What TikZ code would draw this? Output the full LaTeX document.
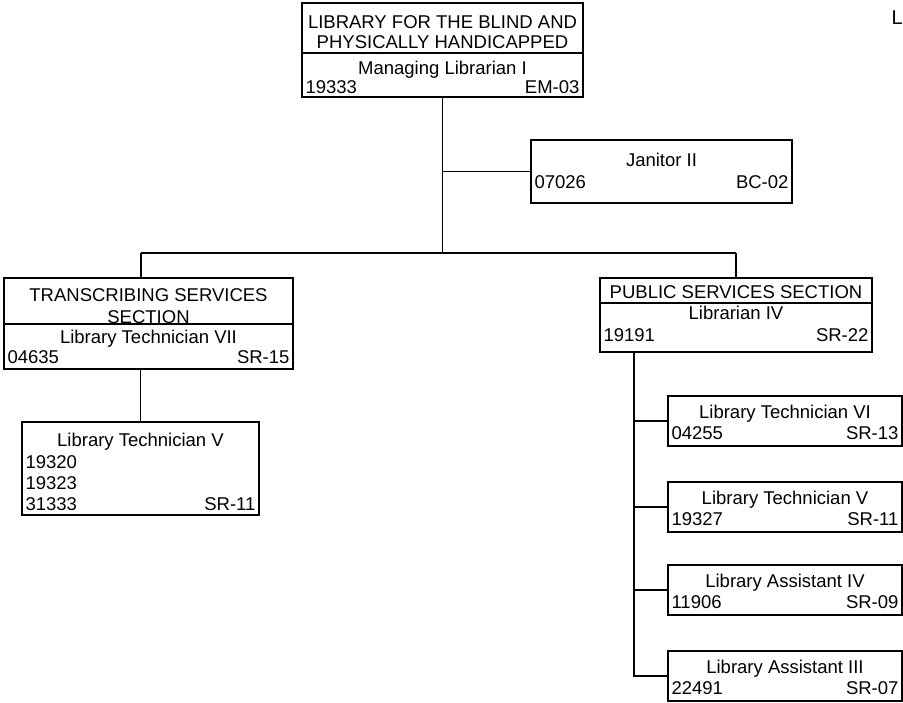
\documentclass[tikz,border=0pt]{standalone}
\usepackage{fontspec}
\setmainfont{Liberation Sans}
\begin{document}
\begin{tikzpicture}[x=1pt,y=-1pt,line width=1.1pt,
  box/.style={draw,rectangle,inner sep=0pt,outer sep=0pt},
  txt/.style={inner sep=0pt,font=\fontsize{18.5}{21}\selectfont},
  ctr/.style={txt,anchor=base},
  lft/.style={txt,anchor=base west},
  rgt/.style={txt,anchor=base east}]
\useasboundingbox (0,0) rectangle (903,703);
\fill[white] (0,0) rectangle (903,703);

% top box
\node[box,minimum width=281pt,minimum height=94pt] (top) at (442.5,50) {};
\draw (302,53) -- (583,53);
\node[ctr] (topa) at (442.5,28.5) {LIBRARY FOR THE BLIND AND};
\node[ctr] (topb) at (442.5,48.5) {PHYSICALLY HANDICAPPED};
\node[ctr] (topc) at (442.5,74.5) {Managing Librarian I};
\node[lft] (topd) at (305,93.5) {19333};
\node[rgt] (tope) at (580,93.5) {EM-03};

% janitor
\node[box,minimum width=261pt,minimum height=63pt] (jan) at (661.5,171.5) {};
\node[ctr] (jana) at (661.5,166.5) {Janitor II};
\node[lft] (janb) at (534,188.5) {07026};
\node[rgt] (janc) at (789,188.5) {BC-02};

% transcribing
\node[box,minimum width=289pt,minimum height=91pt] (trans) at (148.5,323.5) {};
\draw (4,324) -- (293,324);
\node[ctr] (transa) at (148.5,302) {TRANSCRIBING SERVICES};
\node[ctr] (transb) at (148.5,323.5) {SECTION};
\node[ctr] (transc) at (148.5,343.5) {Library Technician VII};
\node[lft] (transd) at (7,363.5) {04635};
\node[rgt] (transe) at (290,363.5) {SR-15};

% library technician V (left)
\node[box,minimum width=237pt,minimum height=93pt] (tech) at (140.5,468.5) {};
\node[ctr] (techa) at (140.5,446.5) {Library Technician V};
\node[lft] (techb) at (25,468.5) {19320};
\node[lft] (techc) at (25,489.5) {19323};
\node[lft] (techd) at (25,510.5) {31333};
\node[rgt] (teche) at (256,510.5) {SR-11};

% public services
\node[box,minimum width=272pt,minimum height=74pt] (pub) at (736,315) {};
\draw (600,303) -- (872,303);
\node[ctr] (puba) at (736,298.5) {PUBLIC SERVICES SECTION};
\node[ctr] (pubb) at (736,319.5) {Librarian IV};
\node[lft] (pubc) at (603,341.5) {19191};
\node[rgt] (pubd) at (869,341.5) {SR-22};

% right column
\node[box,minimum width=234pt,minimum height=50pt] (ba) at (785,421) {};
\node[ctr] (baa) at (785,418.5) {Library Technician VI};
\node[lft] (bab) at (671,439.5) {04255};
\node[rgt] (bac) at (899,439.5) {SR-13};

\node[box,minimum width=234pt,minimum height=50pt] (bb) at (785,507) {};
\node[ctr] (bba) at (785,504.5) {Library Technician V};
\node[lft] (bbb) at (671,525.5) {19327};
\node[rgt] (bbc) at (899,525.5) {SR-11};

\node[box,minimum width=234pt,minimum height=50pt] (bc) at (785,590) {};
\node[ctr] (bca) at (785,587.5) {Library Assistant IV};
\node[lft] (bcb) at (671,608.5) {11906};
\node[rgt] (bcc) at (899,608.5) {SR-09};

\node[box,minimum width=234pt,minimum height=50pt] (bd) at (785,676) {};
\node[ctr] (bda) at (785,673.5) {Library Assistant III};
\node[lft] (bdb) at (671,694.5) {22491};
\node[rgt] (bdc) at (899,694.5) {SR-07};

% corner letter
\node[txt,anchor=base west,font=\fontsize{20}{22}\selectfont] (corner) at (891,25) {L};

% connectors
\coordinate (hub) at (442.5,253);
\coordinate (hl) at (141,253);
\coordinate (hr) at (736,253);
\coordinate (ps) at (634,352);
\draw (top.south) -- (hub);
\draw (top.south |- jan.west) -- (jan.west);
\draw (hl) -- (hr);
\draw (hl) -- (hl |- trans.north);
\draw (hr) -- (pub.north);
\draw (tech.north |- trans.south) -- (tech.north);
\draw (ps) -- (ps |- bd.west) -- (bd.west);
\draw (ps |- ba.west) -- (ba.west);
\draw (ps |- bb.west) -- (bb.west);
\draw (ps |- bc.west) -- (bc.west);
\end{tikzpicture}
\end{document}
